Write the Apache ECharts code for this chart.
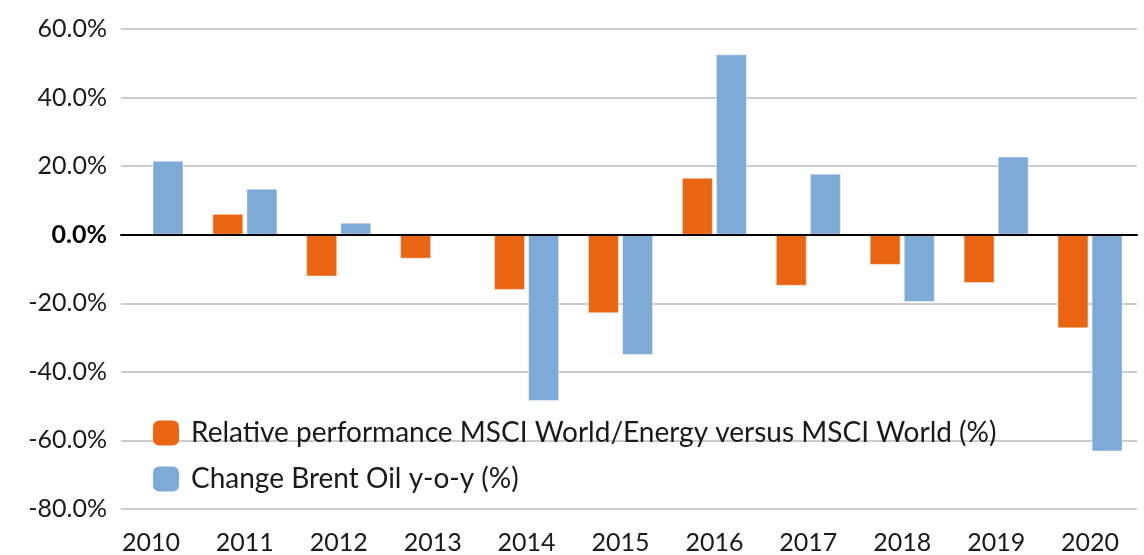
<!doctype html>
<html>
<head>
<meta charset="utf-8">
<script src="https://cdn.jsdelivr.net/npm/echarts@6/dist/echarts.min.js"></script>
<style>
  html, body { margin: 0; padding: 0; background: #fff; }
  #main { width: 1144px; height: 555px; }
</style>
</head>
<body>
<div id="main"></div>
<script>
// years on the x axis
var years = ['2010', '2011', '2012', '2013', '2014', '2015', '2016', '2017', '2018', '2019', '2020'];
// relative performance MSCI World/Energy vs MSCI World, %
var relPerf = [null, 6.1, -12.2, -7.0, -16.1, -22.9, 16.6, -14.9, -8.8, -14.1, -27.3];
// change Brent oil y-o-y, %
var brentChange = [21.6, 13.4, 3.5, null, -48.5, -35.1, 52.6, 17.8, -19.6, 22.8, -63.2];

var yMin = -80, yMax = 60, yStep = 20;
var txt = '#1a1a1a';
var font = 'Lato';

var chart = echarts.init(document.getElementById('main'));

chart.setOption({
  backgroundColor: '#fff',
  textStyle: { fontFamily: font },
  animation: false,
  grid: [
    // gridlines, y labels and zero line
    { left: 121, right: 7, top: 29, bottom: 46 },
    // bars and year labels (band starts a bit left of the gridlines)
    { left: 104, right: 7, top: 29, bottom: 46 }
  ],
  legend: {
    orient: 'vertical',
    left: 148,
    top: 414,
    itemWidth: 26,
    itemHeight: 25,
    itemGap: 18,
    icon: 'roundRect',
    itemStyle: { borderWidth: 0 },
    textStyle: { fontSize: 28, lineHeight: 25, color: txt, fontFamily: font, padding: [0, 0, 0, 7] },
    data: ['Relative performance MSCI World/Energy versus MSCI World (%)', 'Change Brent Oil y-o-y (%)']
  },
  xAxis: [
    {
      gridIndex: 0, type: 'value', min: 0, max: 1, z: 10,
      axisLine: { show: true, onZero: true, lineStyle: { color: '#000', width: 2 } },
      axisTick: { show: false }, axisLabel: { show: false }, splitLine: { show: false }
    },
    {
      gridIndex: 1, type: 'category', data: years,
      axisLine: { show: false }, axisTick: { show: false },
      axisLabel: { fontSize: 25, color: txt, fontFamily: font, margin: 21 }
    }
  ],
  yAxis: [
    {
      gridIndex: 0, type: 'value', min: yMin, max: yMax, interval: yStep,
      axisLine: { show: false }, axisTick: { show: false },
      splitLine: { lineStyle: { color: '#cccccc', width: 2 } },
      axisLabel: {
        fontSize: 25, color: txt, fontFamily: font, margin: 14,
        formatter: function (v) {
          var s = v.toFixed(1) + '%';
          return v === 0 ? '{b|' + s + '}' : s;
        },
        rich: { b: { fontSize: 25, fontWeight: 'bold', color: '#000', fontFamily: font } }
      }
    },
    {
      gridIndex: 1, type: 'value', min: yMin, max: yMax, interval: yStep, show: false,
      splitLine: { show: false }
    }
  ],
  series: [
    {
      name: 'Relative performance MSCI World/Energy versus MSCI World (%)',
      type: 'bar', xAxisIndex: 1, yAxisIndex: 1,
      data: relPerf, barWidth: 31, barGap: '10%',
      itemStyle: { color: '#EA6511', borderColor: 'rgba(255,255,255,0.45)', borderWidth: 1 }
    },
    {
      name: 'Change Brent Oil y-o-y (%)',
      type: 'bar', xAxisIndex: 1, yAxisIndex: 1,
      data: brentChange, barWidth: 31, barGap: '10%',
      itemStyle: { color: '#7DAAD6', borderColor: 'rgba(255,255,255,0.45)', borderWidth: 1 }
    }
  ]
});
</script>
</body>
</html>
